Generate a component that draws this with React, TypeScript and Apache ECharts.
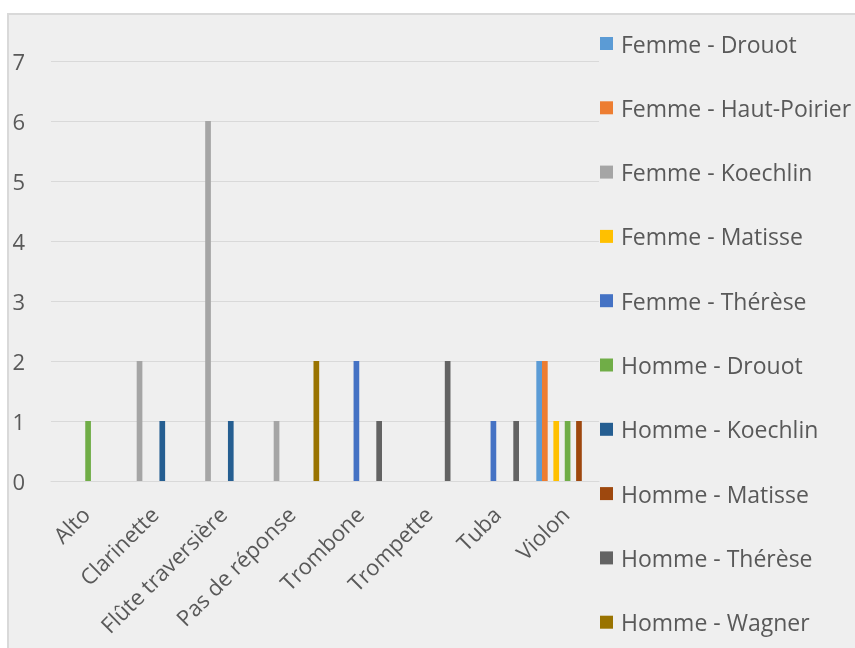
import React, { useEffect, useRef } from "react";
import * as echarts from "echarts";

const categories = [
  "Alto",
  "Clarinette",
  "Flûte traversière",
  "Pas de réponse",
  "Trombone",
  "Trompette",
  "Tuba",
  "Violon",
];

const seriesNames = [
  "Femme - Drouot",
  "Femme - Haut-Poirier",
  "Femme - Koechlin",
  "Femme - Matisse",
  "Femme - Thérèse",
  "Homme - Drouot",
  "Homme - Koechlin",
  "Homme - Matisse",
  "Homme - Thérèse",
  "Homme - Wagner",
];

const femmeDrouot = [0, 0, 0, 0, 0, 0, 0, 2];
const femmeHautPoirier = [0, 0, 0, 0, 0, 0, 0, 2];
const femmeKoechlin = [0, 2, 6, 1, 0, 0, 0, 0];
const femmeMatisse = [0, 0, 0, 0, 0, 0, 0, 1];
const femmeTherese = [0, 0, 0, 0, 2, 0, 1, 0];
const hommeDrouot = [1, 0, 0, 0, 0, 0, 0, 1];
const hommeKoechlin = [0, 1, 1, 0, 0, 0, 0, 0];
const hommeMatisse = [0, 0, 0, 0, 0, 0, 0, 1];
const hommeTherese = [0, 0, 0, 0, 1, 2, 1, 0];
const hommeWagner = [0, 0, 0, 2, 0, 0, 0, 0];

const seriesValues = [
  femmeDrouot,
  femmeHautPoirier,
  femmeKoechlin,
  femmeMatisse,
  femmeTherese,
  hommeDrouot,
  hommeKoechlin,
  hommeMatisse,
  hommeTherese,
  hommeWagner,
];

const colors = [
  "#5B9BD5",
  "#ED7D31",
  "#A5A5A5",
  "#FFC000",
  "#4472C4",
  "#70AD47",
  "#255E91",
  "#9E480E",
  "#636363",
  "#997300",
];

const yTicks = [0, 1, 2, 3, 4, 5, 6, 7];

const FONT = "'Open Sans', sans-serif";
const TEXT_COLOR = "#595959";
const GRID_COLOR = "#d9d9d9";

export default function App() {
  const ref = useRef<HTMLDivElement>(null);

  useEffect(() => {
    if (!ref.current) return;
    const chart = echarts.init(ref.current, null, { renderer: "svg" });
    chart.setOption({
      animation: false,
      color: colors,
      textStyle: { fontFamily: FONT },
      graphic: [
        {
          type: "rect",
          z: -100,
          silent: true,
          shape: { x: 8, y: 14, width: 900, height: 700 },
          style: { fill: "#efefef", stroke: "#d9d9d9", lineWidth: 2 },
        },
      ],
      grid: { left: 51, right: 256, top: 61, bottom: 167, containLabel: false },
      legend: {
        orient: "vertical",
        left: 600,
        top: 32,
        padding: 0,
        itemGap: 41.3,
        itemWidth: 13,
        itemHeight: 13,
        icon: "rect",
        data: seriesNames,
        textStyle: {
          fontFamily: FONT,
          fontSize: 23,
          color: TEXT_COLOR,
          padding: [0, 0, 0, 3],
        },
      },
      xAxis: {
        type: "category",
        data: categories,
        axisLine: { show: true, lineStyle: { color: GRID_COLOR, width: 1 } },
        axisTick: { show: false },
        axisLabel: {
          interval: 0,
          rotate: 45,
          margin: 29,
          fontFamily: FONT,
          fontSize: 22,
          color: TEXT_COLOR,
        },
      },
      yAxis: {
        type: "value",
        min: yTicks[0],
        max: yTicks[yTicks.length - 1],
        interval: 1,
        axisLine: { show: false },
        axisTick: { show: false },
        splitLine: { lineStyle: { color: GRID_COLOR, width: 1 } },
        axisLabel: {
          margin: 26,
          fontFamily: FONT,
          fontSize: 22,
          color: TEXT_COLOR,
          padding: [0, 0, 6, 0],
        },
      },
      series: seriesNames.map((name, i) => ({
        name,
        type: "bar",
        data: seriesValues[i],
        barGap: "0%",
        barCategoryGap: "17%",
        itemStyle: { color: colors[i] },
      })),
    });
    return () => chart.dispose();
  }, []);

  return (
    <div
      ref={ref}
      style={{ position: "fixed", left: 0, top: 0, width: 855, height: 648 }}
    />
  );
}
